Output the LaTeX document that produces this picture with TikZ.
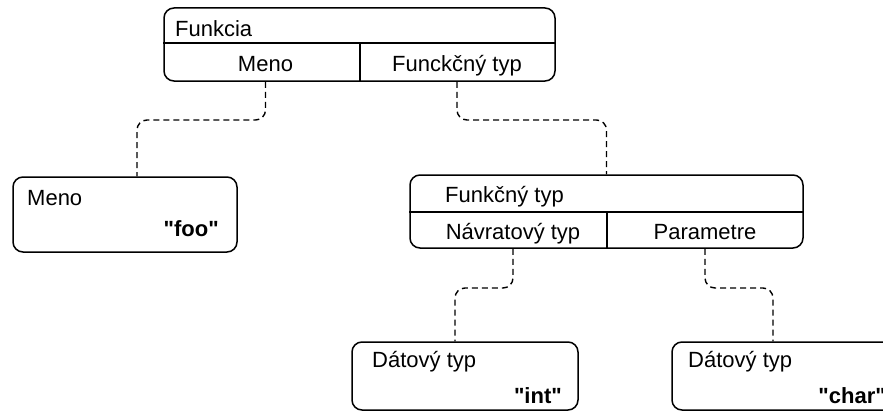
\documentclass[tikz,border=0pt]{standalone}
\usepackage{fontspec}
\setmainfont{Liberation Sans}[Ligatures=TeXOff]
\begin{document}
\begin{tikzpicture}[x=1pt,y=-1pt,
  box/.style={draw, line width=1.5pt, rounded corners=10pt, inner sep=0pt},
  divider/.style={draw, line width=1.5pt},
  link/.style={draw, line width=1.4pt, dash pattern=on 6pt off 4pt, rounded corners=10pt},
  lbl/.style={inner sep=0pt, font=\fontsize{22}{26}\selectfont},
  val/.style={inner sep=0pt, font=\fontsize{22}{26}\selectfont\bfseries}]
\useasboundingbox (0,0) rectangle (883,412);

% record boxes
\node[box, minimum width=391pt, minimum height=73pt] (func) at (359.5,44.5) {};
\node[box, minimum width=224pt, minimum height=75pt] (nameBox) at (125,214.5) {};
\node[box, minimum width=393pt, minimum height=73pt] (typeBox) at (606.5,211.5) {};
\node[box, minimum width=226pt, minimum height=68pt] (intBox) at (465,376) {};
\node[box, minimum width=230pt, minimum height=68pt] (charBox) at (787,376) {};

% cell dividers
\draw[divider] (func.west |- 0,43) -- (func.east |- 0,43);
\draw[divider] (360,43) -- (func.south -| 360,0);
\draw[divider] (typeBox.west |- 0,212) -- (typeBox.east |- 0,212);
\draw[divider] (607,212) -- (typeBox.south -| 607,0);

% labels
\node[lbl, anchor=base west] (funcT) at (175,37) {Funkcia};
\node[lbl, anchor=base] (funcName) at (265.5,71) {Meno};
\node[lbl, anchor=base] (funcType) at (457,71) {Funckčný typ};

\node[lbl, anchor=base west] (nameT) at (27,205) {Meno};
\node[val, anchor=base east] (nameV) at (219,236) {"foo"};

\node[lbl, anchor=base west] (typeT) at (445,202) {Funkčný typ};
\node[lbl, anchor=base] (retT) at (513,239) {Návratový typ};
\node[lbl, anchor=base] (parT) at (705,239) {Parametre};

\node[lbl, anchor=base west] (intT) at (372,367) {Dátový typ};
\node[val, anchor=base east] (intV) at (562,403) {"int"};
\node[lbl, anchor=base west] (charT) at (688,367) {Dátový typ};
\node[val, anchor=base east] (charV) at (886,403) {"char"};

% dashed connectors
\draw[link] (funcName |- func.south) -- (funcName |- 0,120) -- (137,120) -- (nameBox.north -| 137,0);
\draw[link] (funcType |- func.south) -- (funcType |- 0,120) -- (typeBox.north |- 0,120) -- (typeBox.north);
\draw[link] (retT |- typeBox.south) -- (retT |- 0,288) -- (455,288) -- (intBox.north -| 455,0);
\draw[link] (parT |- typeBox.south) -- (parT |- 0,288) -- (773,288) -- (charBox.north -| 773,0);
\end{tikzpicture}
\end{document}
